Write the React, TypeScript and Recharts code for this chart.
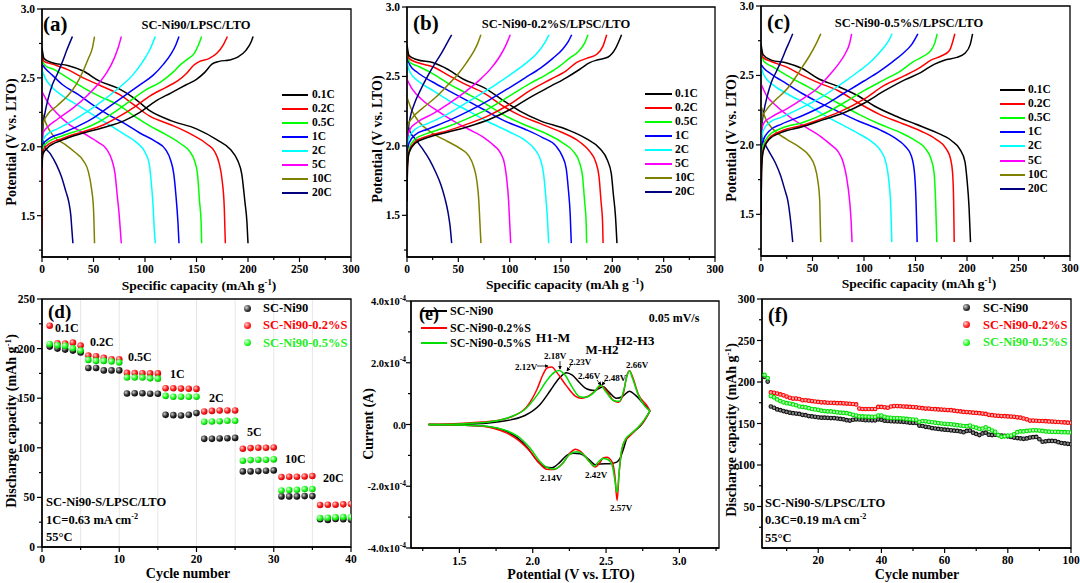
import React from "react";
import { LineChart, Line, ScatterChart, Scatter, XAxis, YAxis, CartesianGrid, ReferenceArea } from "recharts";

const FONT = "'Times New Roman', 'Liberation Serif', Times, serif";

const rates = ["0.1C", "0.2C", "0.5C", "1C", "2C", "5C", "10C", "20C"];
const rateColors = ["#000000", "#ff0000", "#00ff00", "#0000ff", "#00ffff", "#ff00ff", "#808000", "#000080"];

// ---- (a) SC-Ni90 : charge / discharge, [capacity, voltage]
const aC01 = [[0, 1.85], [0.3, 1.9], [1, 1.95], [5, 1.99], [20, 2.05], [40, 2.1], [60, 2.14], [80, 2.19], [95, 2.25], [110, 2.33], [125, 2.39], [140, 2.45], [150, 2.49], [158, 2.54], [165, 2.6], [172, 2.62], [182, 2.63], [190, 2.65], [198, 2.7], [203, 2.76], [205, 2.8]];
const aC02 = [[0, 1.4], [0.3, 1.92], [1, 1.97], [5, 2.01], [20, 2.06], [40, 2.11], [60, 2.16], [75, 2.22], [90, 2.29], [105, 2.37], [120, 2.43], [132, 2.48], [140, 2.53], [147, 2.59], [153, 2.62], [162, 2.64], [170, 2.68], [176, 2.74], [180, 2.8]];
const aC05 = [[0, 1.55], [0.3, 1.95], [1, 2.0], [5, 2.03], [20, 2.08], [40, 2.13], [55, 2.18], [70, 2.25], [85, 2.33], [100, 2.41], [115, 2.47], [127, 2.54], [135, 2.6], [142, 2.64], [148, 2.68], [152, 2.74], [155, 2.8]];
const aC1 = [[0, 1.75], [0.3, 1.98], [1, 2.02], [5, 2.05], [20, 2.1], [35, 2.15], [50, 2.21], [65, 2.29], [80, 2.37], [95, 2.45], [108, 2.52], [118, 2.6], [125, 2.67], [130, 2.74], [133, 2.8]];
const aC2 = [[0, 1.85], [0.3, 2.0], [1, 2.05], [5, 2.09], [15, 2.13], [30, 2.19], [45, 2.26], [60, 2.34], [75, 2.43], [88, 2.52], [98, 2.62], [105, 2.71], [110, 2.8]];
const aC5 = [[0, 1.9], [0.3, 2.05], [1, 2.1], [5, 2.14], [15, 2.2], [30, 2.28], [45, 2.38], [55, 2.46], [63, 2.54], [70, 2.64], [74, 2.72], [77, 2.8]];
const aC10 = [[0, 1.95], [0.3, 2.1], [1, 2.17], [5, 2.23], [15, 2.3], [25, 2.37], [33, 2.45], [40, 2.55], [45, 2.64], [49, 2.72], [51, 2.8]];
const aC20 = [[0, 1.8], [0.3, 2.0], [1, 2.15], [3, 2.25], [6, 2.35], [10, 2.45], [15, 2.53], [20, 2.62], [24, 2.7], [29.5, 2.8]];
const aD01 = [[0, 2.72], [2, 2.64], [10, 2.61], [25, 2.59], [40, 2.55], [55, 2.48], [75, 2.42], [90, 2.35], [105, 2.26], [125, 2.19], [150, 2.13], [170, 2.05], [183, 1.98], [190, 1.9], [194, 1.8], [197, 1.6], [199, 1.45], [200, 1.3]];
const aD02 = [[0, 2.66], [2, 2.62], [10, 2.6], [25, 2.56], [40, 2.5], [55, 2.45], [75, 2.38], [90, 2.3], [105, 2.22], [125, 2.16], [145, 2.09], [160, 2.02], [168, 1.96], [172, 1.88], [175, 1.75], [177, 1.55], [178, 1.3]];
const aD05 = [[0, 2.63], [3, 2.59], [12, 2.56], [25, 2.5], [40, 2.43], [55, 2.37], [75, 2.3], [90, 2.22], [105, 2.15], [120, 2.09], [135, 2.02], [143, 1.97], [148, 1.9], [151, 1.8], [153, 1.6], [154.5, 1.45], [155, 1.3]];
const aD1 = [[0, 2.6], [3, 2.57], [10, 2.52], [20, 2.45], [35, 2.38], [50, 2.3], [65, 2.23], [80, 2.17], [95, 2.1], [110, 2.04], [120, 1.98], [125, 1.9], [128, 1.8], [130, 1.65], [132, 1.45], [133, 1.3]];
const aD2 = [[0, 2.56], [3, 2.5], [10, 2.43], [20, 2.37], [35, 2.3], [50, 2.23], [65, 2.16], [80, 2.09], [92, 2.03], [100, 1.96], [104, 1.88], [106, 1.75], [108, 1.55], [109, 1.4], [110, 1.3]];
const aD5 = [[0, 2.4], [5, 2.33], [15, 2.24], [25, 2.17], [40, 2.1], [55, 2.03], [63, 1.98], [68, 1.9], [71, 1.8], [73, 1.65], [75, 1.5], [76, 1.4], [77, 1.3]];
const aD10 = [[0, 2.25], [5, 2.15], [12, 2.07], [22, 2.02], [32, 1.96], [40, 1.9], [45, 1.82], [48, 1.7], [50, 1.55], [51, 1.3]];
const aD20 = [[0, 2.08], [3, 2.0], [8, 1.95], [14, 1.87], [19, 1.78], [23, 1.68], [26, 1.6], [28, 1.5], [29, 1.4], [30, 1.3]];

// ---- (b) SC-Ni90-0.2%S
const bC01 = [[0, 1.6], [0.5, 1.85], [2, 1.95], [8, 2.02], [20, 2.06], [40, 2.1], [60, 2.14], [80, 2.19], [100, 2.26], [120, 2.35], [140, 2.43], [155, 2.49], [168, 2.55], [178, 2.6], [186, 2.62], [196, 2.64], [203, 2.7], [209, 2.8]];
const bC02 = [[0, 1.6], [0.5, 1.85], [2, 1.96], [8, 2.03], [20, 2.07], [40, 2.11], [60, 2.16], [80, 2.22], [100, 2.3], [120, 2.4], [140, 2.48], [155, 2.54], [165, 2.6], [175, 2.63], [185, 2.66], [191, 2.72], [194.5, 2.8]];
const bC05 = [[0, 1.75], [0.5, 1.9], [2, 1.98], [8, 2.05], [20, 2.09], [40, 2.14], [60, 2.2], [80, 2.27], [100, 2.36], [120, 2.45], [135, 2.51], [148, 2.57], [158, 2.63], [167, 2.68], [173, 2.74], [176.3, 2.8]];
const bC1 = [[0, 1.8], [0.5, 1.95], [2, 2.02], [8, 2.08], [20, 2.12], [40, 2.18], [60, 2.25], [80, 2.33], [100, 2.42], [115, 2.49], [130, 2.56], [142, 2.63], [152, 2.7], [157, 2.75], [160.4, 2.8]];
const bC2 = [[0, 1.9], [0.5, 2.0], [2, 2.06], [8, 2.12], [20, 2.16], [40, 2.23], [60, 2.32], [80, 2.41], [100, 2.51], [115, 2.59], [127, 2.67], [134, 2.74], [138.3, 2.8]];
const bC5 = [[0, 2.0], [0.5, 2.07], [3, 2.12], [10, 2.17], [25, 2.23], [40, 2.3], [55, 2.38], [70, 2.47], [82, 2.56], [90, 2.64], [96, 2.72], [100.6, 2.8]];
const bC10 = [[0, 2.1], [1, 2.15], [5, 2.2], [15, 2.27], [28, 2.35], [40, 2.44], [50, 2.52], [58, 2.6], [65, 2.68], [69, 2.74], [72, 2.8]];
const bC20 = [[0, 1.9], [1, 2.1], [3, 2.2], [7, 2.3], [13, 2.4], [20, 2.5], [27, 2.59], [33, 2.66], [39, 2.74], [43.5, 2.8]];
const bD01 = [[0, 2.73], [2, 2.65], [10, 2.62], [25, 2.6], [40, 2.55], [55, 2.48], [75, 2.42], [95, 2.32], [110, 2.25], [130, 2.18], [155, 2.12], [175, 2.05], [188, 1.98], [195, 1.9], [199, 1.8], [201, 1.65], [203, 1.5], [204.5, 1.3]];
const bD02 = [[0, 2.7], [2, 2.63], [10, 2.6], [25, 2.57], [40, 2.51], [55, 2.45], [75, 2.38], [95, 2.28], [110, 2.22], [130, 2.16], [150, 2.1], [168, 2.03], [178, 1.96], [184, 1.88], [187, 1.78], [189, 1.6], [190.5, 1.45], [191, 1.3]];
const bD05 = [[0, 2.67], [3, 2.6], [12, 2.57], [25, 2.52], [40, 2.45], [55, 2.39], [75, 2.31], [95, 2.22], [115, 2.15], [135, 2.09], [152, 2.02], [162, 1.96], [168, 1.88], [171, 1.78], [173, 1.6], [174.5, 1.45], [175, 1.3]];
const bD1 = [[0, 2.63], [3, 2.58], [10, 2.53], [25, 2.46], [40, 2.4], [55, 2.34], [75, 2.26], [95, 2.18], [115, 2.12], [132, 2.06], [145, 2.0], [151, 1.93], [155, 1.84], [157, 1.7], [159, 1.5], [160, 1.3]];
const bD2 = [[0, 2.6], [3, 2.53], [12, 2.46], [25, 2.4], [40, 2.33], [60, 2.25], [80, 2.17], [100, 2.1], [115, 2.04], [125, 1.97], [130, 1.9], [133, 1.8], [135, 1.65], [137, 1.45], [138, 1.3]];
const bD5 = [[0, 2.48], [5, 2.41], [15, 2.33], [30, 2.25], [45, 2.18], [60, 2.12], [75, 2.06], [85, 2.0], [91, 1.95], [95, 1.87], [97, 1.77], [99, 1.6], [100, 1.45], [101, 1.3]];
const bD10 = [[0, 2.35], [5, 2.25], [12, 2.17], [25, 2.09], [40, 2.03], [52, 1.98], [60, 1.93], [65, 1.85], [68, 1.75], [70, 1.6], [71, 1.45], [72, 1.3]];
const bD20 = [[0, 2.17], [3, 2.1], [8, 2.05], [15, 1.98], [22, 1.9], [28, 1.81], [33, 1.72], [37, 1.62], [40, 1.52], [42, 1.42], [43.5, 1.3]];

// ---- (c) SC-Ni90-0.5%S
const cC01 = [[0, 1.5], [0.5, 1.8], [2, 1.95], [8, 2.04], [20, 2.09], [40, 2.13], [60, 2.18], [80, 2.23], [100, 2.3], [120, 2.39], [140, 2.47], [155, 2.52], [168, 2.58], [178, 2.61], [190, 2.63], [198, 2.66], [203, 2.72], [205.4, 2.8]];
const cC02 = [[0, 1.5], [0.5, 1.82], [2, 1.96], [8, 2.05], [20, 2.1], [40, 2.14], [60, 2.19], [80, 2.25], [100, 2.33], [120, 2.43], [140, 2.5], [155, 2.56], [165, 2.61], [175, 2.64], [183, 2.68], [188.2, 2.8]];
const cC05 = [[0, 1.6], [0.5, 1.9], [2, 1.99], [8, 2.07], [20, 2.12], [40, 2.16], [60, 2.22], [80, 2.3], [100, 2.39], [120, 2.47], [135, 2.53], [148, 2.6], [158, 2.64], [165, 2.68], [169, 2.74], [171, 2.8]];
const cC1 = [[0, 1.8], [0.5, 1.97], [2, 2.03], [8, 2.1], [20, 2.15], [40, 2.21], [60, 2.28], [80, 2.37], [100, 2.46], [115, 2.53], [128, 2.6], [138, 2.66], [146, 2.72], [152.3, 2.8]];
const cC2 = [[0, 1.9], [0.5, 2.02], [2, 2.1], [8, 2.16], [20, 2.2], [40, 2.27], [60, 2.35], [80, 2.45], [95, 2.53], [108, 2.61], [118, 2.69], [124, 2.75], [127.3, 2.8]];
const cC5 = [[0, 2.0], [0.5, 2.1], [3, 2.16], [10, 2.2], [25, 2.26], [40, 2.33], [55, 2.41], [66, 2.5], [75, 2.58], [82, 2.66], [86, 2.73], [88, 2.8]];
const cC10 = [[0, 2.1], [1, 2.2], [5, 2.25], [15, 2.33], [25, 2.4], [33, 2.48], [40, 2.56], [47, 2.64], [53, 2.72], [58, 2.8]];
const cC20 = [[0, 1.9], [1, 2.15], [3, 2.25], [6, 2.35], [10, 2.45], [15, 2.53], [20, 2.61], [25, 2.7], [28, 2.75], [30.8, 2.8]];
const cD01 = [[0, 2.73], [2, 2.65], [10, 2.61], [25, 2.59], [40, 2.55], [55, 2.48], [75, 2.42], [95, 2.35], [110, 2.28], [130, 2.21], [150, 2.15], [170, 2.09], [185, 2.03], [193, 1.97], [198, 1.88], [200, 1.75], [202, 1.55], [203.4, 1.3]];
const cD02 = [[0, 2.7], [2, 2.63], [10, 2.6], [25, 2.56], [40, 2.5], [55, 2.45], [75, 2.39], [95, 2.3], [115, 2.22], [135, 2.16], [155, 2.1], [170, 2.04], [180, 1.97], [184, 1.9], [186, 1.8], [187, 1.6], [187.6, 1.3]];
const cD05 = [[0, 2.67], [3, 2.6], [12, 2.56], [25, 2.5], [40, 2.44], [55, 2.38], [75, 2.3], [95, 2.22], [115, 2.15], [135, 2.09], [150, 2.03], [160, 1.97], [165, 1.9], [168, 1.8], [169.5, 1.6], [170.7, 1.3]];
const cD1 = [[0, 2.58], [3, 2.55], [10, 2.51], [25, 2.44], [40, 2.37], [55, 2.31], [75, 2.24], [95, 2.17], [115, 2.11], [130, 2.05], [140, 1.99], [146, 1.92], [149, 1.8], [150.5, 1.6], [151.6, 1.3]];
const cD2 = [[0, 2.56], [3, 2.5], [12, 2.43], [25, 2.37], [40, 2.31], [60, 2.22], [80, 2.14], [95, 2.08], [108, 2.02], [116, 1.96], [121, 1.88], [124, 1.75], [126, 1.55], [127, 1.3]];
const cD5 = [[0, 2.44], [5, 2.36], [15, 2.28], [30, 2.19], [45, 2.12], [58, 2.06], [68, 2.0], [75, 1.95], [80, 1.87], [83, 1.77], [86, 1.6], [87.5, 1.45], [88.4, 1.3]];
const cD10 = [[0, 2.28], [5, 2.18], [12, 2.11], [25, 2.04], [38, 1.98], [47, 1.92], [52, 1.85], [55, 1.75], [57, 1.6], [57.5, 1.45], [58, 1.3]];
const cD20 = [[0, 2.08], [3, 2.02], [8, 1.95], [14, 1.87], [19, 1.78], [23, 1.68], [26, 1.6], [28, 1.5], [29.5, 1.4], [30.8, 1.3]];

// ---- (d) rate capability, cycles 1-40
const rateBlack = [202, 200, 199, 198, 196, 180.5, 180.5, 178, 178, 178, 154.7, 155, 155, 154.5, 154.5, 133.2, 132.9, 132.5, 133.2, 135, 109, 109, 109.4, 109.7, 110, 76.2, 76.2, 76.5, 76.8, 77.2, 51, 51, 51, 51.3, 51.3, 27.9, 27.2, 28.2, 27.9, 27.5];
const rateRed = [223, 205.4, 205, 206, 203, 193, 192.3, 190.6, 189.3, 189.3, 175.5, 175.3, 175.2, 175, 175, 160, 160, 159.7, 159.5, 159.4, 136.6, 137.2, 137.6, 137.6, 137.6, 99, 99.7, 100, 100, 100.3, 70.5, 70.8, 70.8, 71.1, 71.5, 42.3, 42.6, 42.6, 43, 43.3];
const rateGreen = [204.7, 203.4, 202.7, 200.3, 198, 188.6, 187.6, 187.6, 187, 186, 170.8, 170.8, 170.8, 170, 169.7, 152.3, 151.5, 151.5, 151.5, 151.5, 126.2, 126.5, 126.8, 127.2, 127.2, 87, 87.6, 88, 88, 88.3, 57, 57.4, 57.7, 58.4, 58.4, 29.2, 29.5, 29.9, 30.2, 30.2];
const rateLabels = ["0.1C", "0.2C", "0.5C", "1C", "2C", "5C", "10C", "20C"];

// ---- (e) CV at 0.05 mV/s, [V, current in 1e-4 A]
const cvBlackUp = [[1.29, 0], [1.5, 0.01], [1.7, 0.05], [1.85, 0.15], [1.95, 0.3], [2.05, 0.65], [2.12, 1.1], [2.18, 1.5], [2.23, 1.68], [2.27, 1.6], [2.32, 1.35], [2.37, 1.15], [2.42, 1.1], [2.48, 1.22], [2.52, 1.05], [2.57, 0.85], [2.61, 0.9], [2.66, 1.08], [2.7, 0.95], [2.75, 0.7], [2.8, 0.44]];
const cvBlackDown = [[1.29, 0], [1.5, -0.02], [1.7, -0.07], [1.82, -0.22], [1.9, -0.45], [1.96, -0.73], [2.03, -1.17], [2.084, -1.38], [2.13, -1.4], [2.186, -1.22], [2.232, -1.0], [2.277, -0.93], [2.323, -0.95], [2.391, -1.17], [2.425, -1.3], [2.46, -1.28], [2.527, -1.27], [2.573, -1.22], [2.595, -1.1], [2.618, -0.8], [2.641, -0.46], [2.686, -0.25], [2.75, 0.05], [2.8, 0.44]];
const cvRedUp = [[1.29, 0], [1.5, 0.03], [1.65, 0.08], [1.78, 0.15], [1.87, 0.28], [1.96, 0.58], [2.03, 1.15], [2.07, 1.62], [2.1, 1.84], [2.13, 1.86], [2.165, 1.68], [2.23, 1.25], [2.29, 0.92], [2.33, 0.85], [2.37, 0.9], [2.43, 1.1], [2.465, 1.26], [2.505, 1.08], [2.55, 0.78], [2.585, 0.72], [2.62, 1.05], [2.64, 1.55], [2.66, 1.74], [2.68, 1.55], [2.72, 0.98], [2.78, 0.6], [2.8, 0.44]];
const cvRedDown = [[1.29, 0], [1.5, -0.02], [1.64, -0.05], [1.73, -0.12], [1.82, -0.27], [1.91, -0.54], [1.98, -0.86], [2.05, -1.28], [2.095, -1.45], [2.14, -1.46], [2.2, -1.28], [2.255, -0.92], [2.29, -0.8], [2.323, -0.86], [2.39, -1.22], [2.425, -1.38], [2.46, -1.22], [2.48, -1.08], [2.505, -1.06], [2.54, -1.2], [2.56, -1.65], [2.575, -2.46], [2.59, -1.5], [2.605, -0.9], [2.62, -0.6], [2.66, -0.38], [2.71, -0.14], [2.76, 0.12], [2.8, 0.44]];
const cvGreenUp = [[1.29, 0], [1.5, 0.02], [1.7, 0.08], [1.85, 0.25], [1.95, 0.5], [2.03, 0.95], [2.1, 1.45], [2.15, 1.7], [2.18, 1.75], [2.22, 1.6], [2.27, 1.2], [2.32, 0.9], [2.36, 0.88], [2.42, 1.05], [2.46, 1.27], [2.5, 1.05], [2.55, 0.78], [2.59, 0.75], [2.62, 1.1], [2.645, 1.6], [2.66, 1.73], [2.68, 1.5], [2.72, 0.95], [2.76, 0.62], [2.8, 0.44]];
const cvGreenDown = [[1.29, 0], [1.5, -0.02], [1.64, -0.04], [1.73, -0.09], [1.82, -0.2], [1.91, -0.42], [1.98, -0.75], [2.05, -1.2], [2.1, -1.4], [2.15, -1.44], [2.2, -1.28], [2.255, -0.95], [2.3, -0.88], [2.34, -0.95], [2.39, -1.22], [2.42, -1.35], [2.45, -1.2], [2.48, -1.1], [2.505, -1.12], [2.54, -1.3], [2.56, -1.8], [2.575, -2.2], [2.59, -1.5], [2.605, -0.85], [2.63, -0.5], [2.67, -0.3], [2.72, -0.08], [2.76, 0.15], [2.8, 0.44]];

// ---- (f) cycling at 0.3C
const cycBlackStart = 3;
const cycBlack = [206, 200.5,
  170.5, 169, 167, 166, 165, 164, 163, 162.5, 162, 161.5,
  160.5, 160, 159, 158.5, 158, 157.5, 157, 157, 156.8, 156.5,
  156.5, 156, 155.5, 155, 154, 153.5, 154.5, 155, 154.8, 154.5,
  154, 154, 153.8, 153.8, 155, 154.5, 153.3, 153, 152.8, 152.6,
  152.5, 152.3, 152, 151.5, 151, 150.8, 150.6, 147.5, 147, 146,
  145.5, 144.5, 144, 143.5, 143, 142.6, 142.2, 141.8, 141.4, 141,
  140.5, 139.5, 141, 141.5, 139, 137.5, 136, 138, 139, 136.5,
  136, 136.5, 136, 135.5, 135, 134.5, 133.8, 133, 132.5, 132,
  131.5, 132, 133, 133.5, 133.8, 131, 128, 128.5, 129, 129,
  128.8, 127.5, 126.5, 126, 125.5, 125];
const cycRedStart = 5;
const cycRed = [
  187.5, 187, 186, 185, 184, 182.5, 181, 180, 180, 179.5,
  178, 178, 177.5, 177, 176.5, 176, 175.5, 175.5, 175, 175,
  174.8, 174.5, 174.5, 174.3, 174, 173.8, 173.5, 173, 168, 167.5,
  167.5, 167.5, 167.5, 167.5, 170, 170, 169.5, 169, 170.5, 171,
  171, 170.8, 170.5, 170.3, 170, 169.8, 169.5, 169, 168.5, 168,
  168, 167.5, 167.3, 167, 166.8, 166.5, 166.2, 166, 165.5, 165,
  164.5, 164, 163.8, 163.5, 163, 162.8, 162.5, 162, 161.5, 160.5,
  160, 159.5, 159.2, 159, 158.8, 158.5, 158.3, 158, 157.5, 157,
  156, 155, 153.5, 153.5, 153.3, 153, 153, 152.8, 152.5, 152.3,
  152, 151.8, 151.5, 151.3, 151, 150.8];
const cycGreenStart = 3;
const cycGreen = [208.5, 204.7,
  183, 181.5, 179, 177, 175.5, 174.5, 174, 173, 172, 170.5,
  170, 169.5, 168.5, 167.5, 167, 166.5, 165.5, 165, 164.5, 164.5,
  164, 163.5, 163, 162.8, 162.5, 161.5, 160.5, 159.5, 158.5, 158.5,
  158.3, 158.2, 158, 158, 159.5, 159.5, 158, 157, 156.8, 156.6,
  156.5, 156.3, 156, 155.5, 155, 154.8, 154.5, 152, 153, 152.6,
  152, 151.5, 151, 150.5, 150, 149.6, 149.3, 149, 148.6, 148,
  147.5, 147, 146.8, 147.5, 146, 145, 143.5, 144, 145.5, 143.5,
  141.5, 140, 136, 134, 134.5, 135.5, 135.5, 137, 139.5, 140.5,
  140.5, 141, 141.5, 141.8, 141.8, 141.5, 141, 140.5, 140.2, 140,
  140, 139.8, 139.6, 139.5, 139.4, 139.3];

const sampleNames = ["SC-Ni90", "SC-Ni90-0.2%S", "SC-Ni90-0.5%S"];
const sampleColors = ["#000000", "#ff0000", "#00ee00"];

const pts = (arr: number[][]) => arr.map(([x, y]) => ({ x, y }));
const seq = (vals: number[], start: number) => vals.map((y, i) => ({ x: start + i, y }));

const PL = 60, PT = 12, PR = 12, PB = 40;

function xTick(axisY: number, majors: number[], fmt: (v: number) => React.ReactNode, fs = 11.5, dy = 16) {
  return (p: any) => {
    const v = p.payload.value;
    const major = majors.some((m) => Math.abs(m - v) < 1e-6);
    return (
      <g>
        <line x1={p.x} x2={p.x} y1={axisY} y2={axisY + (major ? 5 : 3)} stroke="#000" strokeWidth={1.2} />
        {major && (
          <text x={p.x} y={axisY + dy} textAnchor="middle" fontSize={fs} fontFamily={FONT} fontWeight={700} fill="#000">
            {fmt(v)}
          </text>
        )}
      </g>
    );
  };
}

function yTick(axisX: number, majors: number[], fmt: (v: number) => React.ReactNode, fs = 11.5, gap = 7) {
  return (p: any) => {
    const v = p.payload.value;
    const major = majors.some((m) => Math.abs(m - v) < 1e-6);
    return (
      <g>
        <line x1={axisX} x2={axisX - (major ? 5 : 3)} y1={p.y} y2={p.y} stroke="#000" strokeWidth={1.2} />
        {major && (
          <text x={axisX - gap} y={p.y + 4} textAnchor="end" fontSize={fs} fontFamily={FONT} fontWeight={700} fill="#000">
            {fmt(v)}
          </text>
        )}
      </g>
    );
  };
}

const box = (r: number[]) => ({
  position: "absolute" as const,
  left: r[0] - PL,
  top: r[1] - PT,
  width: r[2] - r[0] + PL + PR,
  height: r[3] - r[1] + PT + PB,
});

const fmtN = (v: number) => String(v);
const fmt1 = (v: number) => v.toFixed(1);

type Curve = { data: { x: number; y: number }[]; color: string };

function GcdPanel({ rect, curves }: { rect: number[]; curves: Curve[] }) {
  const b = box(rect);
  const axisY = rect[3] - rect[1] + PT;
  return (
    <div style={b}>
      <LineChart width={b.width} height={b.height} margin={{ top: PT, right: PR, left: 0, bottom: 0 }}>
        <XAxis type="number" dataKey="x" domain={[0, 300]} allowDataOverflow height={PB}
          ticks={[0, 25, 50, 75, 100, 125, 150, 175, 200, 225, 250, 275, 300]} interval={0}
          tickLine={false} axisLine={{ stroke: "#000", strokeWidth: 1.3 }}
          tick={xTick(axisY, [0, 50, 100, 150, 200, 250, 300], fmtN)} />
        <YAxis type="number" domain={[1.2, 3.0]} allowDataOverflow width={PL}
          ticks={[1.25, 1.5, 1.75, 2.0, 2.25, 2.5, 2.75, 3.0]} interval={0}
          tickLine={false} axisLine={{ stroke: "#000", strokeWidth: 1.3 }}
          tick={yTick(PL, [1.5, 2.0, 2.5, 3.0], fmt1)} />
        <ReferenceArea x1={0} x2={300} y1={1.2} y2={3.0} fill="#fff" fillOpacity={0} stroke="#000" strokeWidth={1.3} ifOverflow="visible" />
        {curves.map((c, i) => (
          <Line key={i} data={c.data} dataKey="y" type="monotone" stroke={c.color} strokeWidth={1.5}
            dot={false} activeDot={false} isAnimationActive={false} />
        ))}
      </LineChart>
    </div>
  );
}

function T({ x, y, s = 12, c = "#000", a = "start", r = false, children }: any) {
  const tx = a === "middle" ? "-50%" : a === "end" ? "-100%" : "0";
  return (
    <div style={{
      position: "absolute", left: x, top: y,
      transform: r ? "translate(-50%,-50%) rotate(-90deg)" : `translate(${tx},-50%)`,
      fontFamily: FONT, fontWeight: 700, fontSize: s, color: c, whiteSpace: "nowrap", lineHeight: 1,
    }}>{children}</div>
  );
}

const Sup = ({ children }: any) => <sup style={{ fontSize: "0.65em", lineHeight: 0, verticalAlign: "0.55em" }}>{children}</sup>;

function RateLegend({ lx, lw, tx, y0, dy }: any) {
  return (
    <>
      {rates.map((r, i) => (
        <React.Fragment key={r}>
          <div style={{ position: "absolute", left: lx, top: y0 + i * dy - 1, width: lw, height: 2, background: rateColors[i] }} />
          <T x={tx} y={y0 + i * dy} s={11.5}>{r}</T>
        </React.Fragment>
      ))}
    </>
  );
}

const ballBg = (i: number) =>
  i === 0
    ? "radial-gradient(circle at 35% 35%, #cfcfcf 0%, #333 55%, #000 100%)"
    : i === 1
    ? "radial-gradient(circle at 35% 35%, #ffd0d0 0%, #ff2020 55%, #c00000 100%)"
    : "radial-gradient(circle at 35% 35%, #e0ffe0 0%, #20ff20 55%, #00b000 100%)";

function BallLegend({ bx, tx, ys }: any) {
  return (
    <>
      {sampleNames.map((n, i) => (
        <React.Fragment key={n}>
          <div style={{ position: "absolute", left: bx - 3.5, top: ys[i] - 3.5, width: 7, height: 7, borderRadius: "50%", background: ballBg(i) }} />
          <T x={tx} y={ys[i]} s={12.5} c={i === 2 ? "#22ee22" : sampleColors[i]}>{n}</T>
        </React.Fragment>
      ))}
    </>
  );
}

const gradIds = ["ballK", "ballR", "ballG"];
const ball = (id: string, r: number) => (p: any) => <circle cx={p.cx} cy={p.cy} r={r} fill={`url(#${id})`} />;
const ringFill = ["#8a8a8a", "#ffaaaa", "#b0ffb0"];
const ring = (i: number) => (p: any) => (
  <circle cx={p.cx} cy={p.cy} r={1.8} fill={ringFill[i]} stroke={i === 0 ? "#111" : i === 1 ? "#ff0000" : "#00e000"} strokeWidth={1.1} />
);

const cvTick = (v: number) =>
  v === 0 ? "0.0" : (
    <>
      <tspan>{(v < 0 ? "-" : "") + Math.abs(v).toFixed(1) + "x10"}</tspan>
      <tspan dy={-4.5} fontSize={7.5}>-4</tspan>
    </>
  );

export default function App() {
  const aCh = [aC01, aC02, aC05, aC1, aC2, aC5, aC10, aC20];
  const aDi = [aD01, aD02, aD05, aD1, aD2, aD5, aD10, aD20];
  const bCh = [bC01, bC02, bC05, bC1, bC2, bC5, bC10, bC20];
  const bDi = [bD01, bD02, bD05, bD1, bD2, bD5, bD10, bD20];
  const cCh = [cC01, cC02, cC05, cC1, cC2, cC5, cC10, cC20];
  const cDi = [cD01, cD02, cD05, cD1, cD2, cD5, cD10, cD20];
  const mk = (ch: number[][][], di: number[][][]): Curve[] =>
    [...ch.map((d, i) => ({ data: pts(d), color: rateColors[i] })), ...di.map((d, i) => ({ data: pts(d), color: rateColors[i] }))].reverse();

  const rD = [42, 299, 351, 547];
  const rE = [411, 301, 719, 548];
  const rF = [762, 299, 1071, 548];
  const bD = box(rD), bE = box(rE), bF = box(rF);
  const axD = rD[3] - rD[1] + PT, axE = rE[3] - rE[1] + PT, axF = rF[3] - rF[1] + PT;

  const dSeries = [rateBlack, rateRed, rateGreen];
  const fSeries = [seq(cycBlack, cycBlackStart), seq(cycRed, cycRedStart), seq(cycGreen, cycGreenStart)];
  const cvUp = [cvBlackUp, cvRedUp, cvGreenUp];
  const cvDown = [cvBlackDown, cvRedDown, cvGreenDown];
  const cvColors = ["#000000", "#ff0000", "#00dd00"];
  const eLegY = [310.7, 327.7, 343.3];

  return (
    <div style={{ position: "absolute", left: 0, top: 0, width: 1080, height: 583, background: "#fff", overflow: "hidden" }}>
      <svg width={0} height={0} style={{ position: "absolute" }}>
        <defs>
          <radialGradient id="ballK" cx="35%" cy="35%" r="70%">
            <stop offset="0%" stopColor="#cfcfcf" /><stop offset="55%" stopColor="#333" /><stop offset="100%" stopColor="#000" />
          </radialGradient>
          <radialGradient id="ballR" cx="35%" cy="35%" r="70%">
            <stop offset="0%" stopColor="#ffd0d0" /><stop offset="55%" stopColor="#ff2020" /><stop offset="100%" stopColor="#c00000" />
          </radialGradient>
          <radialGradient id="ballG" cx="35%" cy="35%" r="70%">
            <stop offset="0%" stopColor="#e0ffe0" /><stop offset="55%" stopColor="#20ff20" /><stop offset="100%" stopColor="#00b000" />
          </radialGradient>
          <marker id="arr" viewBox="0 0 6 6" refX="5" refY="3" markerWidth="5" markerHeight="5" orient="auto">
            <path d="M0,0 L6,3 L0,6 z" fill="#000" />
          </marker>
        </defs>
      </svg>

      <GcdPanel rect={[42, 9, 351, 257]} curves={mk(aCh, aDi)} />
      <GcdPanel rect={[407, 7, 715, 257]} curves={mk(bCh, bDi)} />
      <GcdPanel rect={[761, 6, 1070, 256]} curves={mk(cCh, cDi)} />

      {/* (d) rate capability */}
      <div style={bD}>
        <ScatterChart width={bD.width} height={bD.height} margin={{ top: PT, right: PR, left: 0, bottom: 0 }}>
          <CartesianGrid horizontal={false} stroke="#e6e6e6" strokeWidth={1} />
          <XAxis type="number" dataKey="x" domain={[0, 40]} allowDataOverflow height={PB}
            ticks={[0, 5, 10, 15, 20, 25, 30, 35, 40]} interval={0} tickLine={false}
            axisLine={{ stroke: "#000", strokeWidth: 1.3 }} tick={xTick(axD, [0, 10, 20, 30, 40], fmtN)} />
          <YAxis type="number" dataKey="y" domain={[0, 250]} allowDataOverflow width={PL}
            ticks={[0, 25, 50, 75, 100, 125, 150, 175, 200, 225, 250]} interval={0} tickLine={false}
            axisLine={{ stroke: "#000", strokeWidth: 1.3 }} tick={yTick(PL, [0, 50, 100, 150, 200, 250], fmtN)} />
          <ReferenceArea x1={0} x2={40} y1={0} y2={250} fill="#fff" fillOpacity={0} stroke="#000" strokeWidth={1.3} ifOverflow="visible" />
          {dSeries.map((s, i) => (
            <Scatter key={i} data={seq(s, 1)} shape={ball(gradIds[i], 3.3)} isAnimationActive={false} />
          ))}
        </ScatterChart>
      </div>

      {/* (e) CV */}
      <div style={bE}>
        <LineChart width={bE.width} height={bE.height} margin={{ top: PT, right: PR, left: 0, bottom: 0 }}>
          <XAxis type="number" dataKey="x" domain={[1.17, 3.27]} allowDataOverflow height={PB}
            ticks={[1.25, 1.5, 1.75, 2.0, 2.25, 2.5, 2.75, 3.0, 3.25]} interval={0} tickLine={false}
            axisLine={{ stroke: "#000", strokeWidth: 1.3 }} tick={xTick(axE, [1.5, 2.0, 2.5, 3.0], fmt1, 11.5, 17)} />
          <YAxis type="number" domain={[-4, 4]} allowDataOverflow width={PL}
            ticks={[-4, -3, -2, -1, 0, 1, 2, 3, 4]} interval={0} tickLine={false}
            axisLine={{ stroke: "#000", strokeWidth: 1.3 }} tick={yTick(PL, [-4, -2, 0, 2, 4], cvTick, 10.5, 5)} />
          <ReferenceArea x1={1.17} x2={3.27} y1={-4} y2={4} fill="#fff" fillOpacity={0} stroke="#000" strokeWidth={1.3} ifOverflow="visible" />
          {[0, 1, 2].flatMap((i) => [
            <Line key={`u${i}`} data={pts(cvUp[i])} dataKey="y" type="monotone" stroke={cvColors[i]} strokeWidth={1.5} dot={false} activeDot={false} isAnimationActive={false} />,
            <Line key={`d${i}`} data={pts(cvDown[i])} dataKey="y" type="monotone" stroke={cvColors[i]} strokeWidth={1.5} dot={false} activeDot={false} isAnimationActive={false} />,
          ])}
        </LineChart>
      </div>

      {/* (f) cycling */}
      <div style={bF}>
        <ScatterChart width={bF.width} height={bF.height} margin={{ top: PT, right: PR, left: 0, bottom: 0 }}>
          <XAxis type="number" dataKey="x" domain={[2.2, 100]} allowDataOverflow height={PB}
            ticks={[10, 20, 30, 40, 50, 60, 70, 80, 90, 100]} interval={0} tickLine={false}
            axisLine={{ stroke: "#000", strokeWidth: 1.3 }} tick={xTick(axF, [20, 40, 60, 80, 100], fmtN)} />
          <YAxis type="number" dataKey="y" domain={[0, 300]} allowDataOverflow width={PL}
            ticks={[25, 50, 75, 100, 125, 150, 175, 200, 225, 250, 275, 300]} interval={0} tickLine={false}
            axisLine={{ stroke: "#000", strokeWidth: 1.3 }} tick={yTick(PL, [50, 100, 150, 200, 250, 300], fmtN)} />
          <ReferenceArea x1={2.2} x2={100} y1={0} y2={300} fill="#fff" fillOpacity={0} stroke="#000" strokeWidth={1.3} ifOverflow="visible" />
          {fSeries.map((s, i) => (
            <Scatter key={i} data={s} shape={ring(i)} isAnimationActive={false} />
          ))}
        </ScatterChart>
      </div>

      {/* texts (a)-(c) */}
      <T x={43} y={24} s={21}>(a)</T>
      <T x={196} y={25} s={12.5} a="middle">SC-Ni90/LPSC/LTO</T>
      <RateLegend lx={282} lw={26} tx={312} y0={95} dy={14} />
      <T x={12} y={142} s={14} r>Potential (V vs. LTO)</T>
      <T x={199} y={286} s={13.5} a="middle">Specific capacity (mAh g<Sup>-1</Sup>)</T>

      <T x={413} y={22.5} s={21}>(b)</T>
      <T x={556} y={24} s={12.5} a="middle">SC-Ni90-0.2%S/LPSC/LTO</T>
      <RateLegend lx={645} lw={27} tx={675} y0={94.3} dy={14} />
      <T x={378} y={139} s={14} r>Potential (V vs. LTO)</T>
      <T x={565} y={285} s={13.5} a="middle">Specific capacity (mAh g <Sup>-1</Sup>)</T>

      <T x={767} y={22} s={21}>(c)</T>
      <T x={909} y={23.3} s={12.5} a="middle">SC-Ni90-0.5%S/LPSC/LTO</T>
      <RateLegend lx={1000} lw={25} tx={1028} y0={90} dy={14.1} />
      <T x={732} y={137.5} s={14} r>Potential (V vs. LTO)</T>
      <T x={919} y={284} s={13.5} a="middle">Specific capacity (mAh g<Sup>-1</Sup>)</T>

      {/* (d) */}
      <T x={48} y={311} s={19}>(d)</T>
      <T x={55} y={327.5} s={12}>{rateLabels[0]}</T>
      <T x={90} y={342} s={12}>{rateLabels[1]}</T>
      <T x={128} y={357} s={12}>{rateLabels[2]}</T>
      <T x={170} y={374} s={12}>{rateLabels[3]}</T>
      <T x={209} y={398} s={12}>{rateLabels[4]}</T>
      <T x={247} y={432} s={12}>{rateLabels[5]}</T>
      <T x={285} y={459} s={12}>{rateLabels[6]}</T>
      <T x={323} y={478} s={12}>{rateLabels[7]}</T>
      <BallLegend bx={247} tx={263} ys={[308, 325, 342.5]} />
      <T x={46} y={502} s={12.5}>SC-Ni90-S/LPSC/LTO</T>
      <T x={46} y={520} s={12.5}>1C=0.63 mA cm<Sup>-2</Sup></T>
      <T x={46} y={537} s={12.5}>55°C</T>
      <T x={12} y={421} s={14} r>Discharge capacity (mAh g<Sup>-1</Sup>)</T>
      <T x={188} y={574} s={14} a="middle">Cycle number</T>

      {/* (e) */}
      <T x={419} y={314} s={18}>(e)</T>
      {sampleNames.map((n, i) => (
        <React.Fragment key={n}>
          <div style={{ position: "absolute", left: 421, top: eLegY[i] - 1, width: 26, height: 2, background: cvColors[i] }} />
          <T x={450} y={eLegY[i]} s={12}>{n}</T>
        </React.Fragment>
      ))}
      <T x={674} y={318} s={12} a="middle">0.05 mV/s</T>
      <T x={553} y={338} s={13.5} a="middle">H1-M</T>
      <T x={602} y={348.5} s={13} a="middle">M-H2</T>
      <T x={635} y={341} s={13.5} a="middle">H2-H3</T>
      <T x={526} y={366.5} s={9} a="middle">2.12V</T>
      <T x={555} y={356} s={9} a="middle">2.18V</T>
      <T x={580} y={361.5} s={9} a="middle">2.23V</T>
      <T x={589} y={376} s={9} a="middle">2.46V</T>
      <T x={615} y={377.5} s={9} a="middle">2.48V</T>
      <T x={637} y={365} s={9} a="middle">2.66V</T>
      <T x={551} y={477.5} s={9} a="middle">2.14V</T>
      <T x={596} y={475} s={9} a="middle">2.42V</T>
      <T x={621} y={508} s={9} a="middle">2.57V</T>
      <T x={369} y={424} s={14} r>Current (A)</T>
      <T x={571} y={575} s={14} a="middle">Potential (V vs. LTO)</T>
      <svg width={1080} height={583} style={{ position: "absolute", left: 0, top: 0, pointerEvents: "none" }}>
        <line x1={537} y1={366} x2={548} y2={366} stroke="#000" strokeWidth={0.8} markerEnd="url(#arr)" />
        <line x1={560} y1={361} x2={560} y2={369} stroke="#000" strokeWidth={0.8} markerEnd="url(#arr)" />
        <line x1={571} y1={365} x2={567} y2={371} stroke="#000" strokeWidth={0.8} markerEnd="url(#arr)" />
        <line x1={597} y1={380} x2={601} y2={385} stroke="#000" strokeWidth={0.8} markerEnd="url(#arr)" />
        <line x1={606} y1={380} x2={602} y2={385} stroke="#000" strokeWidth={0.8} markerEnd="url(#arr)" />
      </svg>

      {/* (f) */}
      <T x={768} y={315} s={20}>(f)</T>
      <BallLegend bx={966} tx={983} ys={[307.5, 324.5, 342.3]} />
      <T x={765} y={503} s={12.5}>SC-Ni90-S/LPSC/LTO</T>
      <T x={765} y={520} s={12.5}>0.3C=0.19 mA cm<Sup>-2</Sup></T>
      <T x={765} y={537.5} s={12.5}>55°C</T>
      <T x={732} y={430} s={14} r>Discharge capacity (mAh g<Sup>-1</Sup>)</T>
      <T x={917} y={575} s={14} a="middle">Cycle number</T>
    </div>
  );
}
